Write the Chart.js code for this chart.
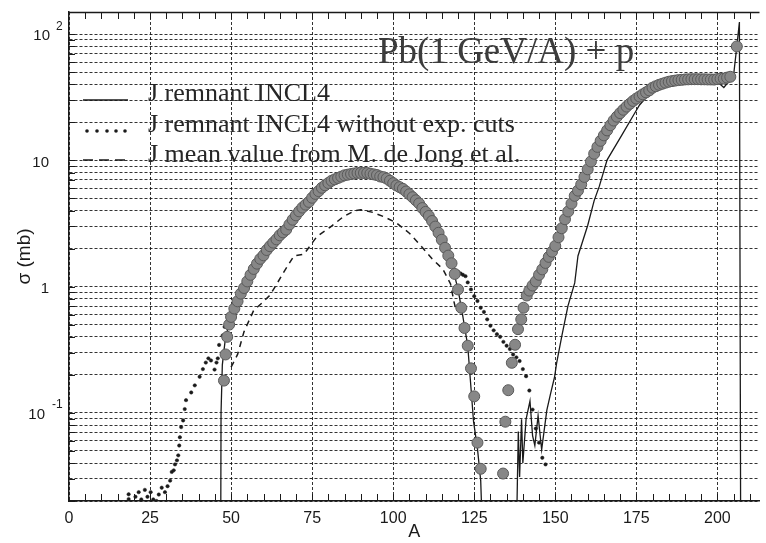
<!DOCTYPE html>
<html>
<head>
<meta charset="utf-8">
<title>Pb(1 GeV/A) + p</title>
<script src="https://cdn.jsdelivr.net/npm/chart.js@4.4.1/dist/chart.umd.min.js"></script>
<style>
html,body{margin:0;padding:0;background:#ffffff;}
#box{position:relative;width:766px;height:543px;}
canvas{display:block;}
</style>
</head>
<body>
<div id="box"><canvas id="chart" width="766" height="543"></canvas></div>
<script>
// ---------------- data ----------------
const xTickValues = [0, 25, 50, 75, 100, 125, 150, 175, 200];
const yGridValues = [0.02, 0.03, 0.04, 0.05, 0.06, 0.07, 0.08, 0.09,
                     0.1, 0.2, 0.3, 0.4, 0.5, 0.6, 0.7, 0.8, 0.9,
                     1, 2, 3, 4, 5, 6, 7, 8, 9,
                     10, 20, 30, 40, 50, 60, 70, 80, 90, 100];
const yMajorValues   = [0.1, 1, 10, 100];
const yMajorMantissa = ['10', '1', '10', '10'];
const yMajorExponent = ['-1', '', '', '2'];
const titleText = 'Pb(1 GeV/A) + p';
const xAxisTitle = 'A';
const yAxisTitle = 'σ (mb)';
const seriesLabels = [
  'J remnant INCL4',
  'J remnant INCL4 without exp. cuts',
  'J mean value from M. de Jong et al.'
];

// experimental points (grey circles)
const expA = [47.8, 48.3, 48.8, 49.4, 50, 51, 52, 53, 54, 55, 56, 57, 58, 59, 60, 61, 62, 63, 64, 65, 66, 67, 68, 69, 70,
  71, 72, 73, 74, 75, 76, 77, 78, 79, 80, 81, 82, 83, 84, 85, 86, 87, 88, 89, 90, 91, 92, 93, 94, 95, 96, 97, 98, 99, 100,
  101, 102, 103, 104, 105, 106, 107, 108, 109, 110, 111, 112, 113, 114, 115, 116, 117, 118, 119, 120, 121, 122, 123, 124, 125, 126, 127,
  133.9, 134.6, 135.5, 136.6, 137.6, 138.5, 139.5, 140.2, 141.2, 142, 143, 144, 145, 146, 147, 148, 149, 150,
  151, 152, 153, 154, 155, 156, 157, 158, 159, 160, 161, 162, 163, 164, 165, 166, 167, 168, 169, 170,
  171, 172, 173, 174, 175, 176, 177, 178, 179, 180, 181, 182, 183, 184, 185, 186, 187, 188, 189, 190,
  191, 192, 193, 194, 195, 196, 197, 198, 199, 200, 201, 202, 203, 204, 206];
const expSigma = [0.18, 0.29, 0.40, 0.50, 0.575, 0.67, 0.765, 0.88, 0.975, 1.1, 1.24, 1.38, 1.52, 1.66, 1.77, 1.95, 2.09, 2.23, 2.37, 2.55, 2.69, 2.83, 3.11, 3.39, 3.67,
  3.95, 4.23, 4.46, 4.69, 5.06, 5.43, 5.71, 6.07, 6.35, 6.62, 6.9, 7.08, 7.26, 7.44, 7.62, 7.71, 7.8, 7.88, 7.96, 7.96, 7.95, 7.95, 7.85, 7.75, 7.65, 7.46, 7.37, 7.18, 6.9, 6.6,
  6.33, 6.14, 5.95, 5.67, 5.39, 5.11, 4.83, 4.56, 4.19, 3.91, 3.63, 3.31, 2.99, 2.67, 2.35, 2.03, 1.76, 1.53, 1.26, 0.95, 0.68, 0.47, 0.34, 0.225, 0.135, 0.058, 0.036,
  0.033, 0.085, 0.151, 0.249, 0.346, 0.46, 0.55, 0.68, 0.85, 0.93, 1.02, 1.1, 1.24, 1.37, 1.54, 1.72, 1.89, 2.1,
  2.46, 2.9, 3.42, 3.94, 4.55, 5.24, 5.76, 6.45, 7.4, 8.5, 9.8, 11.3, 12.8, 14.3, 15.8, 17.3, 19, 20.7, 22.2, 23.7,
  25.2, 26.7, 28.1, 29.6, 30.9, 32.1, 33.4, 34.6, 35.9, 37.7, 38.7, 39.7, 40.5, 41.3, 42, 42.5, 42.9, 43.3, 43.5, 43.8,
  43.9, 44, 44, 44, 43.9, 43.9, 43.8, 43.8, 43.7, 44.1, 44.5, 44.5, 45.3, 46, 80];

// J remnant INCL4 (solid line)
const incl4A = [46.8, 46.9, 47.3, 48.2, 49.5, 52, 55, 58, 60, 63, 65, 68, 70, 73, 75, 78, 80, 83, 85, 88, 90, 93, 95, 98, 100,
  103, 105, 108, 110, 113, 115, 118, 120, 121.4, 123, 124.8, 126, 127, 127.6,
  138, 138.3, 138.6, 139, 139.6, 140, 141, 142.2, 143, 143.7, 144.7, 145.8, 147.4, 148.5, 149.8, 150.4, 152, 153.9, 156, 157,
  160, 162, 163.6, 166, 170.3, 174.3, 176, 180, 185, 190, 195, 200, 202, 204, 205, 206, 206.8, 207.2];
const incl4Sigma = [0.01, 0.1, 0.24, 0.38, 0.53, 0.77, 1.1, 1.52, 1.76, 2.23, 2.55, 3.11, 3.67, 4.46, 5.06, 6.07, 6.62, 7.26, 7.62, 7.88, 7.96, 7.85, 7.65, 7.18, 6.6,
  5.95, 5.39, 4.56, 3.91, 2.99, 2.35, 1.53, 0.95, 0.6, 0.34, 0.085, 0.052, 0.029, 0.01,
  0.01, 0.027, 0.071, 0.031, 0.089, 0.04, 0.089, 0.124, 0.066, 0.055, 0.095, 0.051, 0.105, 0.14, 0.193, 0.246, 0.404, 0.70, 1.07, 1.75,
  3.05, 4.8, 6.25, 10.1, 15.5, 23.2, 27.5, 36, 41, 42.4, 42.6, 42, 37.8, 43.6, 47, 80, 125, 0.01];

// J remnant INCL4 without exp. cuts (dots)
const noCutA = [18.4, 18.4, 20.5, 21.5, 22.3, 23.4, 24.2, 25.2, 26, 27, 27.7, 28.6, 29.6, 30.4, 31.2, 31.7, 32.3, 32.7, 33.3, 33.7,
  34, 34.2, 34.6, 35.2, 35.7, 36.1, 37.7, 38.8, 40.3, 41.3, 42.2, 43, 43.8, 44.9, 45.5, 45.9, 46.3, 47.4, 48,
  119, 120, 120.8, 121.5, 122.3, 123, 124, 125, 126, 127, 128, 129, 130, 131, 132, 133, 134, 135, 136, 137, 138, 139, 140,
  141, 142, 143, 144, 145, 146, 147];
const noCutSigma = [0.0207, 0.0226, 0.0216, 0.0235, 0.0206, 0.0245, 0.0216, 0.0235, 0.0206, 0.0200, 0.0225, 0.0255, 0.0235, 0.0262, 0.029, 0.034, 0.035, 0.039, 0.042, 0.046,
  0.055, 0.064, 0.077, 0.087, 0.107, 0.126, 0.145, 0.165, 0.193, 0.222, 0.25, 0.27, 0.26, 0.22, 0.25, 0.27, 0.345, 0.41, 0.48,
  1.35, 1.31, 1.27, 1.24, 1.21, 1.08, 0.95, 0.84, 0.77, 0.68, 0.63, 0.55, 0.49, 0.45, 0.42, 0.4, 0.365, 0.34, 0.32, 0.29, 0.275, 0.257, 0.222,
  0.195, 0.15, 0.106, 0.075, 0.058, 0.044, 0.039];

// J mean value from M. de Jong et al. (dashed line)
const deJongA = [50, 52, 54, 57, 59.5, 62, 64, 66.3, 69.4, 72.5, 76.5, 80.5, 84.7, 88, 90, 93.8, 97, 101, 105, 108.6, 112, 115.3, 117.7, 118.7, 119.5];
const deJongSigma = [0.23, 0.29, 0.44, 0.65, 0.74, 0.855, 1.04, 1.31, 1.75, 1.81, 2.5, 2.95, 3.59, 3.98, 4.07, 3.87, 3.59, 3.2, 2.65, 2.1, 1.66, 1.38, 1.05, 0.77, 0.63];

// ---------------- chart ----------------
const toPoints = (xs, ys) => xs.map((x, i) => ({x: x, y: ys[i]}));
const INK = '#1a1a1a';
const GRID = 'rgba(15,15,15,0.85)';

const decorPlugin = {
  id: 'decor',
  afterDraw(chart) {
    const {ctx, chartArea: a, scales} = chart;
    const xs = scales.x, ys = scales.y;
    ctx.save();
    ctx.setLineDash([]);
    ctx.strokeStyle = INK;
    // frame top
    ctx.lineWidth = 1.5;
    ctx.beginPath();
    ctx.moveTo(a.left, a.top + 0.5);
    ctx.lineTo(a.right, a.top + 0.5);
    ctx.stroke();
    // minor x ticks (inside, bottom and top)
    ctx.lineWidth = 1;
    ctx.beginPath();
    for (let v = 5; v < xs.max; v += 5) {
      const px = Math.round(xs.getPixelForValue(v)) + 0.5;
      ctx.moveTo(px, a.bottom); ctx.lineTo(px, a.bottom - 7);
      ctx.moveTo(px, a.top); ctx.lineTo(px, a.top + 7);
    }
    // small y ticks (inside, left)
    for (const v of yGridValues) {
      const py = Math.round(ys.getPixelForValue(v)) + 0.5;
      ctx.moveTo(a.left, py); ctx.lineTo(a.left + 6, py);
    }
    ctx.stroke();

    // y labels with exponents
    ctx.fillStyle = INK;
    ctx.textBaseline = 'middle';
    yMajorValues.forEach((v, i) => {
      const py = ys.getPixelForValue(v) + 2;
      const man = yMajorMantissa[i], ex = yMajorExponent[i];
      ctx.font = '15px "Liberation Sans", Arial, sans-serif';
      ctx.textAlign = 'right';
      const manRight = ex === '' ? 49 : (ex.startsWith('-') ? 45 : 50);
      ctx.fillText(man, manRight, py);
      if (ex) {
        ctx.font = '12px "Liberation Sans", Arial, sans-serif';
        ctx.textAlign = 'left';
        ctx.fillText(ex, manRight + (ex.startsWith('-') ? 7 : 6), py - 10);
      }
    });

    // title
    ctx.font = '37px "Liberation Serif", "Times New Roman", serif';
    ctx.fillStyle = '#3c3c3c';
    ctx.textAlign = 'left';
    ctx.textBaseline = 'alphabetic';
    ctx.fillText(titleText, 378, 63);

    // legend
    const legendY = [100, 131, 160];
    const textY = [101, 132, 162];
    chart.data.datasets.forEach((ds) => {
      if (!ds.legendKind) return;
      const k = ds.legendOrder;
      const y = legendY[k];
      ctx.strokeStyle = INK;
      ctx.fillStyle = INK;
      ctx.lineWidth = 1.5;
      if (ds.legendKind === 'solid') {
        ctx.setLineDash([]);
        ctx.beginPath(); ctx.moveTo(83, y); ctx.lineTo(128, y); ctx.stroke();
      } else if (ds.legendKind === 'dots') {
        [87, 97, 107, 116, 125].forEach(px => {
          ctx.beginPath(); ctx.arc(px, y, 1.8, 0, Math.PI * 2); ctx.fill();
        });
      } else {
        ctx.setLineDash([10, 6]);
        ctx.beginPath(); ctx.moveTo(83, y); ctx.lineTo(129, y); ctx.stroke();
        ctx.setLineDash([]);
      }
      ctx.font = '26px "Liberation Serif", "Times New Roman", serif';
      ctx.fillStyle = '#262626';
      ctx.textAlign = 'left';
      ctx.textBaseline = 'alphabetic';
      ctx.fillText(ds.label, 148, textY[k]);
    });
    ctx.restore();
  }
};

Chart.defaults.font.family = '"Liberation Sans", Arial, sans-serif';
Chart.defaults.color = INK;

new Chart(document.getElementById('chart').getContext('2d'), {
  type: 'scatter',
  data: {
    datasets: [
      {
        label: 'experiment',
        data: toPoints(expA, expSigma),
        showLine: false,
        pointRadius: 5.5,
        pointHoverRadius: 5.5,
        backgroundColor: '#878787',
        borderColor: '#5a5a5a',
        borderWidth: 1,
        order: 0,
        clip: 0
      },
      {
        label: seriesLabels[0], legendKind: 'solid', legendOrder: 0,
        data: toPoints(incl4A, incl4Sigma),
        showLine: true, tension: 0,
        borderColor: INK, borderWidth: 1.3,
        pointRadius: 0,
        order: 1, clip: 0
      },
      {
        label: seriesLabels[1], legendKind: 'dots', legendOrder: 1,
        data: toPoints(noCutA, noCutSigma),
        showLine: false,
        pointRadius: 1.7,
        backgroundColor: INK, borderColor: INK, borderWidth: 0.5,
        order: 2, clip: 0
      },
      {
        label: seriesLabels[2], legendKind: 'dashed', legendOrder: 2,
        data: toPoints(deJongA, deJongSigma),
        showLine: true, tension: 0,
        borderColor: INK, borderWidth: 1.5, borderDash: [6, 5],
        pointRadius: 0,
        order: 3, clip: 0
      }
    ]
  },
  options: {
    responsive: false,
    animation: false,
    events: [],
    layout: {padding: {left: 0, right: 0, top: 12, bottom: 0}},
    plugins: {legend: {display: false}, tooltip: {enabled: false}, title: {display: false}},
    scales: {
      x: {
        type: 'linear', position: 'bottom', min: 0, max: 213,
        afterBuildTicks: s => { s.ticks = xTickValues.map(v => ({value: v})); },
        afterFit: s => { s.height = 42; },
        ticks: {font: {size: 16}, color: INK, padding: 8, maxRotation: 0, autoSkip: false,
                callback: v => String(v)},
        grid: {color: GRID, lineWidth: 1, drawTicks: false},
        border: {display: true, color: INK, width: 1.5, dash: [3, 2]},
        title: {display: true, text: xAxisTitle, font: {size: 18}, color: INK, padding: {top: 0, bottom: 0}}
      },
      y: {
        type: 'logarithmic', position: 'left', min: 0.02, max: 150,
        afterBuildTicks: s => { s.ticks = yGridValues.map(v => ({value: v})); },
        afterFit: s => { s.width = 69; },
        ticks: {display: false},
        grid: {color: GRID, lineWidth: 1, drawTicks: false},
        border: {display: true, color: INK, width: 1.5, dash: [3, 2]},
        title: {display: true, text: yAxisTitle, font: {size: 19}, color: INK, padding: {top: 13, bottom: 0}}
      }
    }
  },
  plugins: [decorPlugin]
});
</script>
</body>
</html>
